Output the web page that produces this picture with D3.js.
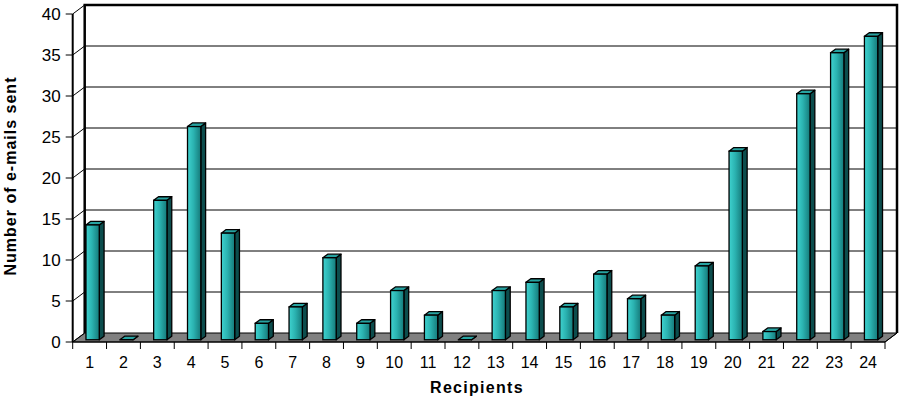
<!DOCTYPE html>
<html>
<head>
<meta charset="utf-8">
<script src="https://cdn.jsdelivr.net/npm/d3@7"></script>
<style>
  html, body { margin: 0; padding: 0; background: #fff; }
  svg { display: block; font-family: Arial, "Liberation Sans", sans-serif; }
</style>
</head>
<body>
<svg id="chart" width="899" height="401"></svg>
<script>
// Number of e-mails sent to each recipient
const recipients = d3.range(1, 25).map(String);
const emailsSent = [14, 0, 17, 26, 13, 2, 4, 10, 2, 6, 3, 0, 6, 7, 4, 8, 5, 3, 9, 23, 1, 30, 35, 37];
const yTicks = [0, 5, 10, 15, 20, 25, 30, 35, 40];

const svg = d3.select("#chart");

// Front plane of the 3D plot box
const x = d3.scaleBand().domain(recipients).range([72.7, 885]).paddingInner(0).paddingOuter(0);
const y = d3.scaleLinear().domain([0, 40]).range([342, 14]);

// Depth offset of the back wall
const DX = 12, DY = -9;
const off = (z) => [DX * z, DY * z];

const line = (pts) => "M" + pts.map(p => p.join(",")).join("L") + "Z";

const g = svg.append("g");

// Floor
const x0 = x.range()[0], x1 = x.range()[1];
g.append("path")
  .attr("d", line([[x0, y(0)], [x1, y(0)], [x1 + DX, y(0) + DY], [x0 + DX, y(0) + DY]]))
  .attr("fill", "#808080").attr("stroke", "#000").attr("stroke-width", 1);

// Back wall gridlines and side wall diagonals
yTicks.filter(t => t > 0 && t < 40).forEach(t => {
  g.append("line")
    .attr("x1", x0 + DX).attr("x2", x1 + DX)
    .attr("y1", y(t) + DY).attr("y2", y(t) + DY)
    .attr("stroke", "#000").attr("stroke-width", 1);
});
yTicks.forEach(t => {
  g.append("line")
    .attr("x1", x0).attr("y1", y(t))
    .attr("x2", x0 + DX).attr("y2", y(t) + DY)
    .attr("stroke", "#000").attr("stroke-width", 1);
});

// Wall frame
g.append("path")
  .attr("d", `M${x0 + DX},${y(0) + DY}V${y(40) + DY}H${x1 + DX}V${y(0) + DY}`)
  .attr("fill", "none").attr("stroke", "#000").attr("stroke-width", 2.5);
g.append("line")
  .attr("x1", x0).attr("x2", x0).attr("y1", y(0)).attr("y2", y(40))
  .attr("stroke", "#000").attr("stroke-width", 2);

// Bar shading
const defs = svg.append("defs");
const grad = defs.append("linearGradient").attr("id", "barFront")
  .attr("x1", "0%").attr("x2", "100%").attr("y1", "0%").attr("y2", "0%");
grad.append("stop").attr("offset", "0%").attr("stop-color", "#3fd2cf");
grad.append("stop").attr("offset", "45%").attr("stop-color", "#2bb3b1");
grad.append("stop").attr("offset", "100%").attr("stop-color", "#157a7a");

// Bars
const barW = 13.3;
const zFront = 0.25, zDepth = 0.4;
const [fdx, fdy] = off(zFront);
const [bdx, bdy] = off(zDepth);

const bars = g.append("g").selectAll("g").data(recipients).join("g");
bars.each(function(r, i) {
  const v = emailsSent[i];
  const left = x(r) + (x.bandwidth() - barW) / 2 + fdx;
  const right = left + barW;
  const bottom = y(0) + fdy;
  const top = y(v) + fdy;
  const sel = d3.select(this);
  // side face
  sel.append("path")
    .attr("d", line([[right, bottom], [right, top], [right + bdx, top + bdy], [right + bdx, bottom + bdy]]))
    .attr("fill", "#0c4d4d").attr("stroke", "#000").attr("stroke-width", 1.3).attr("stroke-linejoin", "round");
  // top face
  sel.append("path")
    .attr("d", line([[left, top], [right, top], [right + bdx, top + bdy], [left + bdx, top + bdy]]))
    .attr("fill", "#27a3a1").attr("stroke", "#000").attr("stroke-width", 1.3).attr("stroke-linejoin", "round");
  // front face
  if (v > 0) {
    sel.append("rect")
      .attr("x", left).attr("y", top)
      .attr("width", barW).attr("height", bottom - top)
      .attr("fill", "url(#barFront)").attr("stroke", "#000").attr("stroke-width", 1.3);
  }
});

// Y axis ticks and labels
const yAxis = g.append("g");
yTicks.forEach(t => {
  yAxis.append("line")
    .attr("x1", x0 - 7).attr("x2", x0).attr("y1", y(t)).attr("y2", y(t))
    .attr("stroke", "#000").attr("stroke-width", 1);
  yAxis.append("text")
    .attr("x", x0 - 12).attr("y", y(t)).attr("dy", "0.36em")
    .attr("text-anchor", "end").attr("font-size", 17).attr("fill", "#000")
    .text(t);
});

// X axis line, ticks and labels
const xAxis = g.append("g");
xAxis.append("line")
  .attr("x1", x0).attr("x2", x1).attr("y1", y(0)).attr("y2", y(0))
  .attr("stroke", "#000").attr("stroke-width", 1);
xAxis.append("line")
  .attr("x1", x1).attr("x2", x1 + DX).attr("y1", y(0)).attr("y2", y(0) + DY)
  .attr("stroke", "#000").attr("stroke-width", 1);
recipients.forEach(r => {
  xAxis.append("line")
    .attr("x1", x(r)).attr("x2", x(r)).attr("y1", y(0)).attr("y2", y(0) + 7)
    .attr("stroke", "#000").attr("stroke-width", 1);
  xAxis.append("text")
    .attr("x", x(r) + x.bandwidth() / 2).attr("y", 368)
    .attr("text-anchor", "middle").attr("font-size", 16).attr("fill", "#000")
    .text(r);
});
xAxis.append("line")
  .attr("x1", x1).attr("x2", x1).attr("y1", y(0)).attr("y2", y(0) + 7)
  .attr("stroke", "#000").attr("stroke-width", 1);

// Axis titles
svg.append("text")
  .attr("x", 477).attr("y", 393)
  .attr("text-anchor", "middle").attr("font-size", 16).attr("font-weight", "bold")
  .attr("letter-spacing", "1.3px")
  .text("Recipients");
svg.append("text")
  .attr("transform", "translate(16,176) rotate(-90)")
  .attr("text-anchor", "middle").attr("font-size", 16).attr("font-weight", "bold")
  .attr("letter-spacing", "1px")
  .text("Number of e-mails sent");
</script>
</body>
</html>
